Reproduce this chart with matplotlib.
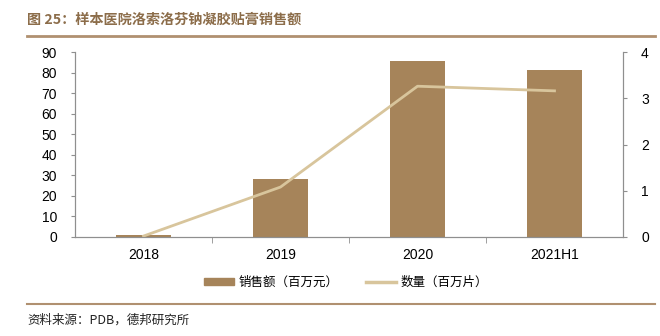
import matplotlib
matplotlib.use("Agg")
import matplotlib.pyplot as plt
from matplotlib.lines import Line2D
from matplotlib.patches import Patch

plt.rcParams['font.family'] = ['Liberation Sans', 'Noto Sans CJK SC', 'DejaVu Sans']

categories = ["2018", "2019", "2020", "2021H1"]
sales = [1.0, 28.2, 85.6, 81.2]        # 销售额（百万元）
quantity = [0.02, 1.08, 3.26, 3.16]    # 数量（百万片）
left_ticks = [0, 10, 20, 30, 40, 50, 60, 70, 80, 90]
right_ticks = [0, 1, 2, 3, 4]

bar_color = "#A6845A"
line_color = "#D8C59C"
title_color = "#8C6D4A"
spine_color = "#8F8F8F"

fig = plt.figure(figsize=(6.6, 3.36), dpi=100)
ax = fig.add_axes([75/660, 1-237/336, (623-75)/660, (237-52)/336])
x = list(range(len(categories)))
ax.bar(x, sales, width=0.4, color=bar_color, zorder=2)
ax.set_xlim(-0.5, 3.5)
ax.set_ylim(0, 90)
ax.set_yticks(left_ticks)
ax.set_xticks(x)
ax.set_xticklabels(categories)
ax.set_xticks([0.5, 1.5, 2.5], minor=True)
ax.tick_params(axis='x', which='major', length=0, pad=8, labelsize=10)
ax.tick_params(axis='x', which='minor', length=4, direction='out', color=spine_color)
ax.tick_params(axis='y', length=3, direction='out', color=spine_color, labelsize=10, pad=10)
for s in ['top']:
    ax.spines[s].set_visible(False)
for s in ['left', 'right', 'bottom']:
    ax.spines[s].set_color(spine_color)
    ax.spines[s].set_linewidth(0.8)

ax2 = ax.twinx()
ax2.plot(x, quantity, color=line_color, linewidth=2, zorder=3)
ax2.set_ylim(0, 4)
ax2.set_yticks(right_ticks)
ax2.tick_params(axis='y', length=3, direction='out', color=spine_color, labelsize=10, pad=10)
ax2.spines['top'].set_visible(False)
for s in ['left', 'right', 'bottom']:
    ax2.spines[s].set_color(spine_color)
    ax2.spines[s].set_linewidth(0.8)

# title and decorations
fig.text(27/660, 1-20/336, "图 25：样本医院洛索洛芬钠凝胶贴膏销售额", color=title_color,
         fontsize=10.2, fontweight='bold', va='center', ha='left',
         family=['Noto Sans CJK SC', 'DejaVu Sans'])
fig.add_artist(Line2D([27/660, 655/660], [1-36/336, 1-36/336], color="#B09070", linewidth=2))
fig.add_artist(Line2D([27/660, 655/660], [1-304/336, 1-304/336], color="#B09070", linewidth=1.5))
fig.text(27/660, 1-320/336, "资料来源：PDB，德邦研究所", color="#222222", fontsize=9,
         va='center', ha='left', family=['Noto Sans CJK SC', 'DejaVu Sans'])

handles = [Patch(color=bar_color), Line2D([0], [0], color=line_color, linewidth=2.5)]
labels = ["销售额（百万元）", "数量（百万片）"]
fig.legend(handles, labels, loc='center', bbox_to_anchor=(346/660, 1-282/336), ncol=2,
           frameon=False, prop={'family': ['Noto Sans CJK SC'], 'size': 9},
           handlelength=2.4, handleheight=0.5, columnspacing=2.2, handletextpad=0.4)

fig.savefig("out.png", dpi=100)
